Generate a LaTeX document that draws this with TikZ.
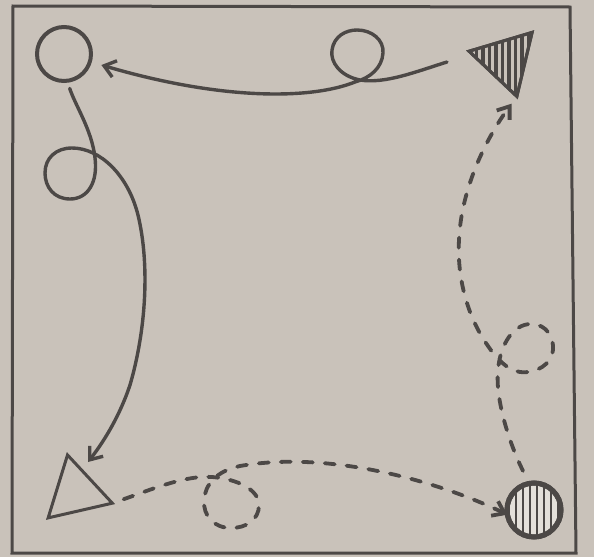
\documentclass[tikz,border=0pt]{standalone}
\usetikzlibrary{arrows.meta,shapes.geometric}
\definecolor{paper}{RGB}{201,194,186}
\definecolor{paperlight}{RGB}{228,224,218}
\definecolor{ink}{RGB}{76,72,70}
\begin{document}
\begin{tikzpicture}[x=1pt,y=-1pt,
  solidline/.style={draw=ink,line width=3.4pt,line cap=round,-{Straight Barb[length=11pt,width=17pt]}},
  dashline/.style={draw=ink,line width=3.8pt,line cap=round,dash pattern=on 10pt off 12pt,-{Straight Barb[length=11pt,width=16pt]}},
  hatch/.style={draw=ink,line width=2.6pt},
  ring/.style={circle,draw=ink,line width=4pt,minimum size=54pt,inner sep=0pt,outer sep=0pt},
  tri/.style={regular polygon,regular polygon sides=3,draw=ink,line width=3pt,minimum size=76pt,inner sep=0pt,outer sep=0pt}]
\fill[paper] (0,0) rectangle (594,557);
\useasboundingbox (0,0) rectangle (594,557);
\draw[ink,line width=3pt] (13,6) -- (570,7) -- (576,553) -- (12,553) -- cycle;

% shapes
\node[ring] (c1) at (64,54) {};
\node[ring,line width=5pt,fill=paperlight] (c3) at (534,510) {};
\node[tri,shape border rotate=196.6] (t1) at (506,60) {};
\node[tri,shape border rotate=12.9] (t2) at (76,492) {};

% hatching
\begin{scope}
  \clip (c3.center) circle[radius=27pt];
  \foreach \x in {509,516,...,560} \draw[hatch] (\x,475) -- (\x,545);
\end{scope}
\begin{scope}
  \clip (t1.corner 1) -- (t1.corner 2) -- (t1.corner 3) -- cycle;
  \foreach \x in {470,476.5,...,535} \draw[hatch,line width=3.4pt] (\x,25) -- (\x,100);
\end{scope}
\draw[ink,line width=3pt] (t1.corner 1) -- (t1.corner 2) -- (t1.corner 3) -- cycle;
\draw[ink,line width=5pt] (c3.center) circle[radius=27pt];

\coordinate (a0) at (447,62);
\coordinate (b1) at (88,462);

% top path: triangle -> circle
\draw[solidline,shorten >=12pt] (a0)
  .. controls (415,72) and (385,84) .. (360,80)
  .. controls (340,76) and (330,62) .. (332,50)
  .. controls (334,36) and (346,30) .. (357,30)
  .. controls (372,30) and (384,40) .. (383,53)
  .. controls (382,68) and (370,78) .. (355,82)
  .. controls (310,100) and (220,100) .. (c1);

% left path: circle -> triangle
\draw[solidline,shorten <=8pt] (c1.-83)
  .. controls (75,105) and (92,130) .. (95,158)
  .. controls (98,182) and (88,199) .. (70,199)
  .. controls (54,199) and (45,187) .. (45,173)
  .. controls (45,158) and (56,148) .. (72,148)
  .. controls (100,148) and (128,175) .. (138,215)
  .. controls (150,265) and (146,330) .. (130,385)
  .. controls (120,415) and (105,440) .. (b1);

% bottom path: triangle -> hatched circle
\draw[dashline,shorten <=12pt] (t2.corner 3)
  .. controls (150,490) and (185,475) .. (212,477)
  .. controls (238,479) and (259,490) .. (259,505)
  .. controls (259,520) and (246,528) .. (231,528)
  .. controls (214,528) and (203,516) .. (204,500)
  .. controls (205,485) and (216,471) .. (240,466)
  .. controls (330,450) and (440,482) .. (c3.190);

% right path: hatched circle -> hatched triangle
\draw[dashline,shorten <=14pt,shorten >=9pt] (c3.100)
  .. controls (510,445) and (495,400) .. (498,370)
  .. controls (500,345) and (513,324) .. (531,324)
  .. controls (547,324) and (554,338) .. (553,350)
  .. controls (552,364) and (536,374) .. (520,372)
  .. controls (507,370) and (496,358) .. (488,346)
  .. controls (466,315) and (457,275) .. (459,240)
  .. controls (461,190) and (485,140) .. (t1.corner 1);
\end{tikzpicture}
\end{document}
